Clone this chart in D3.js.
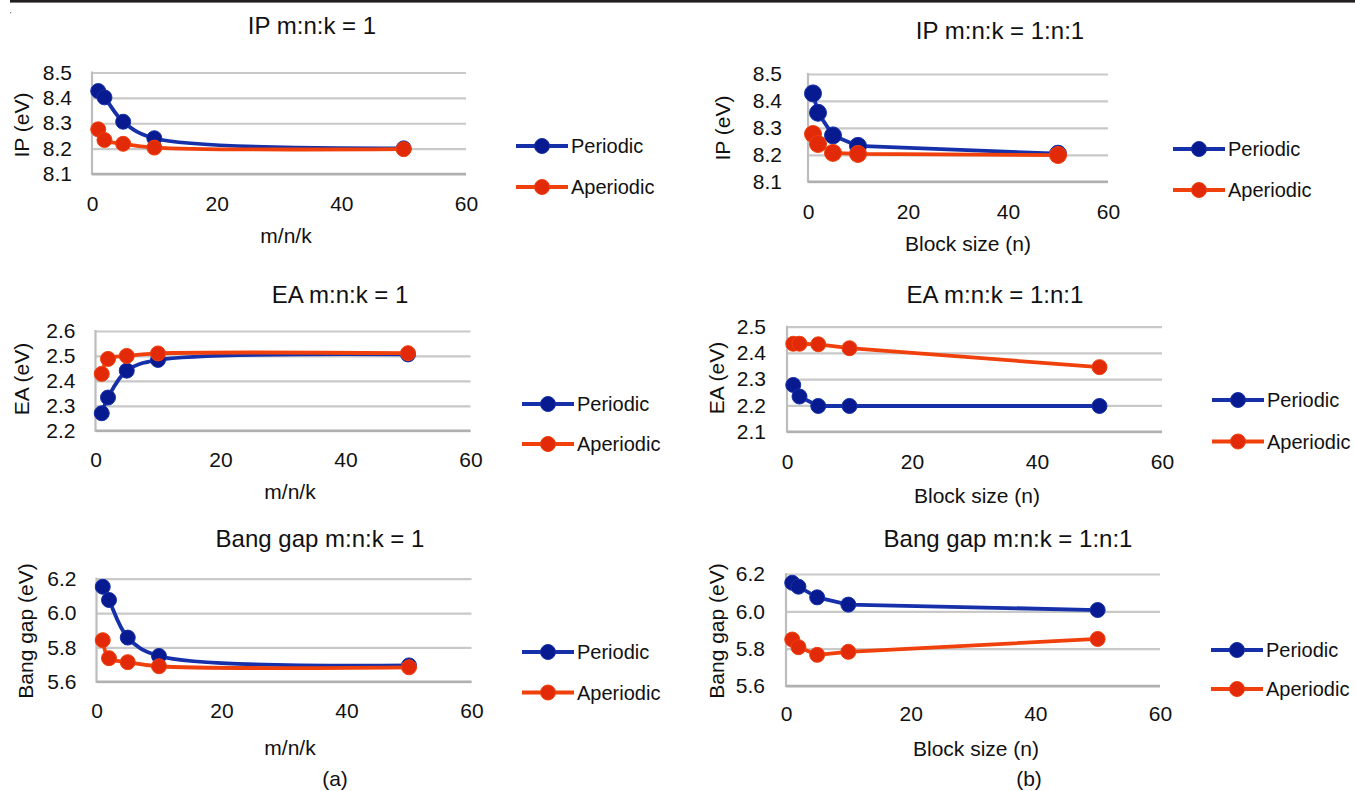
<!DOCTYPE html>
<html>
<head>
<meta charset="utf-8">
<script src="https://cdn.jsdelivr.net/npm/d3@7/dist/d3.min.js"></script>
<style>
  html, body { margin: 0; padding: 0; background: #fff; }
  svg { display: block; font-family: "Liberation Sans", Arial, Helvetica, sans-serif; }
</style>
</head>
<body>
<svg id="chart" width="1355" height="791"></svg>
<script>
// ---------------- DATA ----------------
const xValues = [1, 2, 5, 10, 50];
const xTicks = [0, 20, 40, 60];
const seriesNames = ["Periodic", "Aperiodic"];

// (a) m:n:k = 1
const ipPeriodicA   = [8.427, 8.402, 8.306, 8.241, 8.201];
const ipAperiodicA  = [8.276, 8.234, 8.219, 8.204, 8.198];
const eaPeriodicA   = [2.270, 2.333, 2.441, 2.484, 2.506];
const eaAperiodicA  = [2.428, 2.488, 2.500, 2.510, 2.511];
const bgPeriodicA   = [6.153, 6.076, 5.857, 5.750, 5.695];
const bgAperiodicA  = [5.842, 5.737, 5.714, 5.690, 5.684];

// (b) m:n:k = 1:n:1
const ipPeriodicB   = [8.428, 8.356, 8.272, 8.233, 8.204];
const ipAperiodicB  = [8.277, 8.240, 8.207, 8.203, 8.199];
const eaPeriodicB   = [2.278, 2.234, 2.198, 2.198, 2.198];
const eaAperiodicB  = [2.435, 2.435, 2.433, 2.418, 2.346];
const bgPeriodicB   = [6.153, 6.132, 6.075, 6.036, 6.007];
const bgAperiodicB  = [5.849, 5.808, 5.767, 5.783, 5.852];

const ipTicks = [8.1, 8.2, 8.3, 8.4, 8.5];
const eaTicksA = [2.2, 2.3, 2.4, 2.5, 2.6];
const eaTicksB = [2.1, 2.2, 2.3, 2.4, 2.5];
const bgTicks = [5.6, 5.8, 6.0, 6.2];

const titles = ["IP m:n:k = 1", "IP m:n:k = 1:n:1", "EA m:n:k = 1", "EA m:n:k = 1:n:1",
                "Bang gap m:n:k = 1", "Bang gap m:n:k = 1:n:1"];
const xLabels = ["m/n/k", "Block size (n)", "m/n/k", "Block size (n)", "m/n/k", "Block size (n)"];
const yLabels = ["IP (eV)", "IP (eV)", "EA (eV)", "EA (eV)", "Bang gap (eV)", "Bang gap (eV)"];
const subLabels = ["(a)", "(b)"];

// ---------------- LAYOUT ----------------
const layout = [
  { per: ipPeriodicA, ap: ipAperiodicA, ticks: ipTicks, smooth: true,
    left: 92, right: 466, top: 72.5, bottom: 174, titleX: 312, titleY: 34,
    xlabX: 286, xlabY: 235, ylabX: 21, ylabY: 125, ypad: 20, xpad: 22,
    legX: 516, legY1: 146, legY2: 187, r: 7.5 },
  { per: ipPeriodicB, ap: ipAperiodicB, ticks: ipTicks, smooth: false,
    left: 808, right: 1108, top: 74, bottom: 181.7, titleX: 1000, titleY: 39,
    xlabX: 968, xlabY: 243, ylabX: 722, ylabY: 128, ypad: 26, xpad: 22,
    legX: 1173, legY1: 149, legY2: 190, r: 8.5 },
  { per: eaPeriodicA, ap: eaAperiodicA, ticks: eaTicksA, smooth: true,
    left: 95.5, right: 470.5, top: 331, bottom: 430.7, titleX: 340, titleY: 303,
    xlabX: 290, xlabY: 491, ylabX: 21, ylabY: 379, ypad: 20, xpad: 21,
    legX: 522, legY1: 404, legY2: 444, r: 7.5 },
  { per: eaPeriodicB, ap: eaAperiodicB, ticks: eaTicksB, smooth: false,
    left: 787, right: 1162, top: 326.7, bottom: 431.7, titleX: 995, titleY: 303,
    xlabX: 977, xlabY: 495, ylabX: 716, ylabY: 378, ypad: 21, xpad: 22,
    legX: 1212, legY1: 400, legY2: 441.5, r: 7.5 },
  { per: bgPeriodicA, ap: bgAperiodicA, ticks: bgTicks, smooth: true,
    left: 96.5, right: 471.5, top: 578.7, bottom: 681.7, titleX: 320, titleY: 547,
    xlabX: 290, xlabY: 747, ylabX: 25, ylabY: 631, ypad: 20, xpad: 21,
    legX: 522, legY1: 652, legY2: 692.5, r: 7.5 },
  { per: bgPeriodicB, ap: bgAperiodicB, ticks: bgTicks, smooth: false,
    left: 786, right: 1160, top: 574, bottom: 686, titleX: 1008, titleY: 547,
    xlabX: 976, xlabY: 748, ylabX: 716, ylabY: 631, ypad: 21, xpad: 20,
    legX: 1211, legY1: 650, legY2: 689, r: 7.5 }
];

const colors = {
  Periodic:  { line: "#1530a8", mark: "#081a90" },
  Aperiodic: { line: "#f0400c", mark: "#e22a08" }
};

const svg = d3.select("#chart");

// top rule
svg.append("rect").attr("x", 10).attr("y", 0).attr("width", 1345).attr("height", 2.6).attr("fill", "#231f20");
svg.append("rect").attr("x", 10).attr("y", 12).attr("width", 1.2).attr("height", 1.2).attr("fill", "#777");

layout.forEach((p, i) => {
  const g = svg.append("g");
  const x = d3.scaleLinear().domain([0, 60]).range([p.left, p.right]);
  const y = d3.scaleLinear().domain(d3.extent(p.ticks)).range([p.bottom, p.top]);

  // gridlines + y tick labels
  const yAxis = g.append("g").attr("transform", `translate(${p.left},0)`)
    .call(d3.axisLeft(y).tickValues(p.ticks).tickFormat(d3.format(".1f"))
      .tickSize(-(p.right - p.left)).tickPadding(p.ypad));
  yAxis.select(".domain").remove();
  yAxis.selectAll(".tick line").attr("stroke", "#c9c9c9").attr("stroke-width", 2.2);
  yAxis.selectAll(".tick text").attr("fill", "#111").style("font-size", "21px");
  // left axis line
  g.append("line").attr("x1", p.left).attr("x2", p.left).attr("y1", p.top - 1).attr("y2", p.bottom + 1)
    .attr("stroke", "#bdbdbd").attr("stroke-width", 2.2);
  // bottom axis (darker)
  g.append("line").attr("x1", p.left).attr("x2", p.right).attr("y1", p.bottom).attr("y2", p.bottom)
    .attr("stroke", "#b0b0b0").attr("stroke-width", 2.5);

  // x tick labels
  const xAxis = g.append("g").attr("transform", `translate(0,${p.bottom})`)
    .call(d3.axisBottom(x).tickValues(xTicks).tickFormat(d3.format("d")).tickSize(0).tickPadding(p.xpad));
  xAxis.select(".domain").remove();
  xAxis.selectAll(".tick text").attr("fill", "#111").style("font-size", "21px");

  // series
  const curve = p.smooth ? d3.curveCatmullRom.alpha(0.5) : d3.curveLinear;
  [["Periodic", p.per], ["Aperiodic", p.ap]].forEach(([name, vals]) => {
    const pts = xValues.map((xv, k) => [xv, vals[k]]);
    g.append("path").datum(pts)
      .attr("d", d3.line().x(d => x(d[0])).y(d => y(d[1])).curve(curve))
      .attr("fill", "none").attr("stroke", colors[name].line).attr("stroke-width", 3.8)
      .attr("stroke-linejoin", "round");
    g.selectAll(null).data(pts).enter().append("circle")
      .attr("cx", d => x(d[0])).attr("cy", d => y(d[1])).attr("r", p.r)
      .attr("fill", colors[name].mark).attr("stroke", colors[name].line).attr("stroke-width", 1);
  });

  // title
  g.append("text").attr("x", p.titleX).attr("y", p.titleY).attr("text-anchor", "middle")
    .style("font-size", "24px").attr("fill", "#111").text(titles[i]);
  // x label
  g.append("text").attr("x", p.xlabX).attr("y", p.xlabY).attr("text-anchor", "middle")
    .attr("dominant-baseline", "central").style("font-size", "21px").attr("fill", "#111").text(xLabels[i]);
  // y label
  g.append("text").attr("transform", `translate(${p.ylabX},${p.ylabY}) rotate(-90)`)
    .attr("text-anchor", "middle").attr("dominant-baseline", "central")
    .style("font-size", "21px").attr("fill", "#111").text(yLabels[i]);

  // legend
  [[seriesNames[0], p.legY1], [seriesNames[1], p.legY2]].forEach(([name, ly]) => {
    g.append("line").attr("x1", p.legX).attr("x2", p.legX + 52).attr("y1", ly).attr("y2", ly)
      .attr("stroke", colors[name].line).attr("stroke-width", 3.8);
    g.append("circle").attr("cx", p.legX + 26).attr("cy", ly).attr("r", 7.5)
      .attr("fill", colors[name].mark).attr("stroke", colors[name].line).attr("stroke-width", 1);
    g.append("text").attr("x", p.legX + 55).attr("y", ly).attr("dominant-baseline", "central")
      .style("font-size", "20px").attr("fill", "#111").text(name);
  });
});

// panel labels
svg.append("text").attr("x", 335).attr("y", 778).attr("text-anchor", "middle")
  .attr("dominant-baseline", "central").style("font-size", "21px").attr("fill", "#111").text(subLabels[0]);
svg.append("text").attr("x", 1029).attr("y", 778).attr("text-anchor", "middle")
  .attr("dominant-baseline", "central").style("font-size", "21px").attr("fill", "#111").text(subLabels[1]);
</script>
</body>
</html>
